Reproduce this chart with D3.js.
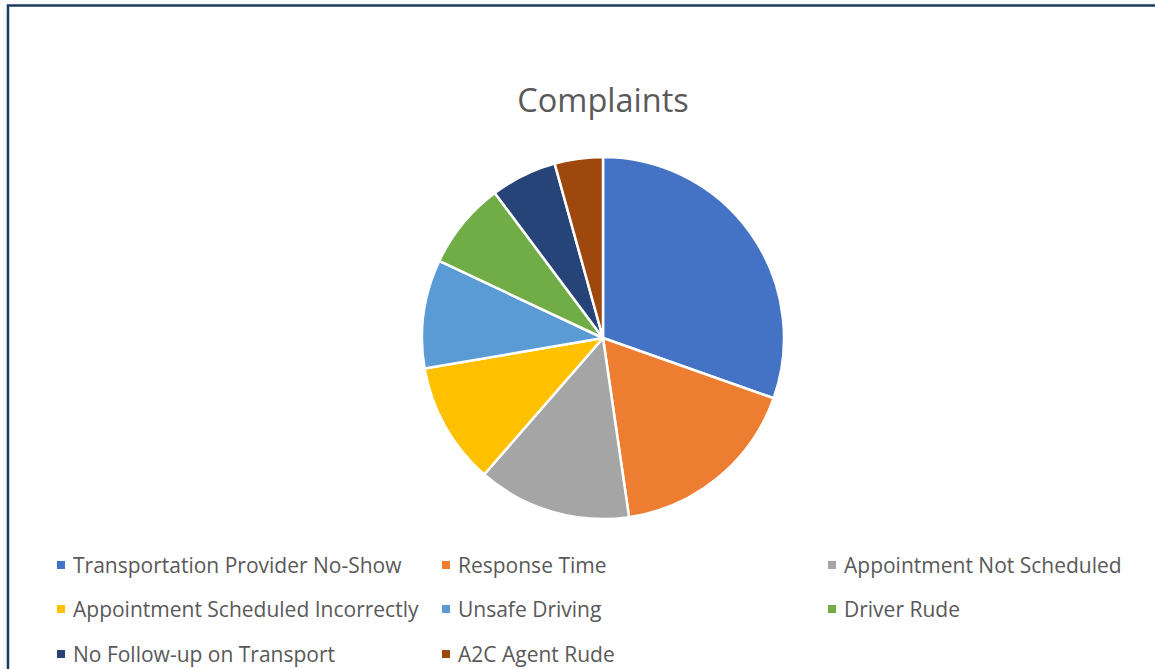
<!DOCTYPE html>
<html>
<head>
<meta charset="utf-8">
<script src="https://cdn.jsdelivr.net/npm/d3@7"></script>
<style>
  html, body { margin: 0; padding: 0; background: #fff; }
  svg { display: block; font-family: 'Open Sans', sans-serif; }
</style>
</head>
<body>
<div id="chart"></div>
<script>
const categories = [
  'Transportation Provider No-Show',
  'Response Time',
  'Appointment Not Scheduled',
  'Appointment Scheduled Incorrectly',
  'Unsafe Driving',
  'Driver Rude',
  'No Follow-up on Transport',
  'A2C Agent Rude'
];
const values = [30.4, 17.3, 13.7, 10.9, 9.7, 7.8, 5.9, 4.3];
const colors = ['#4472c4', '#ed7d31', '#a5a5a5', '#ffc000', '#5b9bd5', '#70ad47', '#264478', '#9e480e'];

const W = 1155, H = 669;
const svg = d3.select('#chart')
  .append('svg')
    .attr('width', W)
    .attr('height', H);

const defs = svg.append('defs');
const f = defs.append('filter').attr('id', 'shadow')
    .attr('x', '-5%').attr('y', '-5%').attr('width', '110%').attr('height', '110%');
f.append('feDropShadow')
    .attr('dx', 2).attr('dy', 3).attr('stdDeviation', 4)
    .attr('flood-color', '#000').attr('flood-opacity', 0.18);

// chart frame
svg.append('rect')
    .attr('x', 8)
    .attr('y', 5.5)
    .attr('width', W + 20)
    .attr('height', H + 20)
    .attr('fill', '#fff')
    .attr('stroke', '#1f3d5f')
    .attr('stroke-width', 2.5)
    .attr('filter', 'url(#shadow)');

svg.append('text')
    .attr('x', 603)
    .attr('y', 112)
    .attr('text-anchor', 'middle')
    .attr('font-size', '32.5px')
    .attr('fill', '#595959')
    .text('Complaints');

const cx = 603, cy = 338, r = 181;
const pie = d3.pie().sort(null).value(d => d);
const arc = d3.arc().innerRadius(0).outerRadius(r);

svg.append('g')
    .attr('transform', `translate(${cx},${cy})`)
  .selectAll('path')
  .data(pie(values))
  .join('path')
    .attr('d', arc)
    .attr('fill', (d, i) => colors[i])
    .attr('stroke', '#fff')
    .attr('stroke-width', 2.5)
    .attr('stroke-linejoin', 'round');

// legend: 3 columns
const colX = [57, 442, 828];
const rowY = [565, 609, 654];
const legend = svg.append('g')
  .selectAll('g')
  .data(categories)
  .join('g')
    .attr('transform', (d, i) => `translate(${colX[i % 3]},${rowY[Math.floor(i / 3)]})`);

legend.append('rect')
    .attr('x', 0)
    .attr('y', -4)
    .attr('width', 8)
    .attr('height', 8)
    .attr('fill', (d, i) => colors[i]);

legend.append('text')
    .attr('x', 16)
    .attr('y', 0)
    .attr('dy', '0.36em')
    .attr('font-size', '21px')
    .attr('fill', '#595959')
    .text(d => d);
</script>
</body>
</html>
